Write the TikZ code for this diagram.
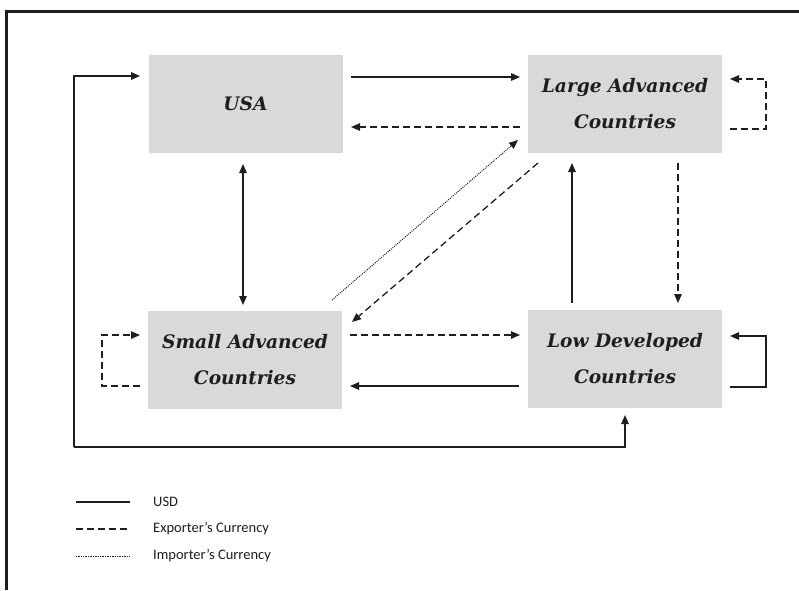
\documentclass[tikz,border=0pt]{standalone}
\usepackage{fontspec}
\setmainfont{DejaVu Serif}
\newfontfamily\legendfont{Carlito}
\usetikzlibrary{arrows.meta}
\definecolor{boxgray}{HTML}{D9D9DB}
\definecolor{ink}{HTML}{1E1E1E}
\tikzset{
  box/.style={fill=boxgray, draw=none, minimum width=194pt, minimum height=98pt,
    inner sep=0pt, align=center, text=ink,
    font=\fontsize{18.6}{36}\selectfont\bfseries\itshape},
  conn/.style={draw=ink, line width=1.3pt, -{Triangle[length=9pt,width=7.5pt]}},
  dconn/.style={conn, dash pattern=on 7pt off 4pt},
  tconn/.style={conn, line width=1pt, dash pattern=on 1pt off 1.1pt},
  legline/.style={draw=ink, line width=1.1pt},
  legtext/.style={anchor=west, inner sep=0pt, text=ink, font=\legendfont\fontsize{14.5}{16}\selectfont},
}
\begin{document}
\begin{tikzpicture}[x=1pt,y=-1pt]
\useasboundingbox (0,0) rectangle (799,590);
% frame
\draw[draw=ink, line width=2.2pt] (6.5,590) -- (6.5,11.5) -- (799,11.5);
% boxes
\node[box] (usa) at (245.5,104) {USA};
\node[box] (lac) at (625,104) {Large Advanced\\Countries};
\node[box] (sac) at (245,360) {Small Advanced\\Countries};
\node[box] (ldc) at (625,358.5) {Low Developed\\Countries};
% helper coordinates
\coordinate (a1s) at (351,77);  \coordinate (a1e) at (520,77);
\coordinate (a2s) at (520,127); \coordinate (a2e) at (351,127);
\coordinate (l1a) at (730,129); \coordinate (l1b) at (766,129); \coordinate (l1c) at (766,79); \coordinate (l1d) at (730,79);
\coordinate (v1s) at (243,164); \coordinate (v1e) at (243,305);
\coordinate (d1s) at (332,300); \coordinate (d1e) at (518,140);
\coordinate (d2s) at (538,163); \coordinate (d2e) at (352,322);
\coordinate (h3s) at (350,335); \coordinate (h3e) at (520,335);
\coordinate (h4s) at (519,386); \coordinate (h4e) at (350,386);
\coordinate (l2a) at (730,387); \coordinate (l2b) at (766,387); \coordinate (l2c) at (766,336); \coordinate (l2d) at (730,336);
\coordinate (l3a) at (140,386); \coordinate (l3b) at (102,386); \coordinate (l3c) at (102,335); \coordinate (l3d) at (140,335);
\coordinate (v2s) at (572,303); \coordinate (v2e) at (572,163);
\coordinate (v3s) at (678,163); \coordinate (v3e) at (678,303);
\coordinate (b1) at (140,76); \coordinate (b2) at (74,76); \coordinate (b3) at (74,447); \coordinate (b4) at (625,447); \coordinate (b5) at (625,415);
% connectors
\draw[conn] (a1s) -- (a1e);
\draw[dconn] (a2s) -- (a2e);
\draw[dconn] (l1a) -- (l1b) -- (l1c) -- (l1d);
\draw[conn, {Triangle[length=9pt,width=7.5pt]}-{Triangle[length=9pt,width=7.5pt]}] (v1s) -- (v1e);
\draw[tconn] (d1s) -- (d1e);
\draw[dconn] (d2s) -- (d2e);
\draw[dconn] (h3s) -- (h3e);
\draw[conn] (h4s) -- (h4e);
\draw[conn] (l2a) -- (l2b) -- (l2c) -- (l2d);
\draw[dconn] (l3a) -- (l3b) -- (l3c) -- (l3d);
\draw[conn] (v2s) -- (v2e);
\draw[dconn] (v3s) -- (v3e);
\draw[conn] (b3) -- (b4) -- (b5);
\draw[conn] (b3) -- (b2) -- (b1);
% legend
\coordinate (g1a) at (76,502); \coordinate (g1b) at (130,502);
\coordinate (g2a) at (76,529); \coordinate (g2b) at (130,529);
\coordinate (g3a) at (76,556); \coordinate (g3b) at (130,556);
\draw[legline] (g1a) -- (g1b);
\draw[legline, dash pattern=on 7pt off 4pt] (g2a) -- (g2b);
\draw[legline, line width=0.9pt, dash pattern=on 0.8pt off 0.9pt] (g3a) -- (g3b);
\node[legtext] (t1) at (153,502) {USD};
\node[legtext] (t2) at (153,529) {Exporter’s Currency};
\node[legtext] (t3) at (153,556) {Importer’s Currency};
\end{tikzpicture}
\end{document}
